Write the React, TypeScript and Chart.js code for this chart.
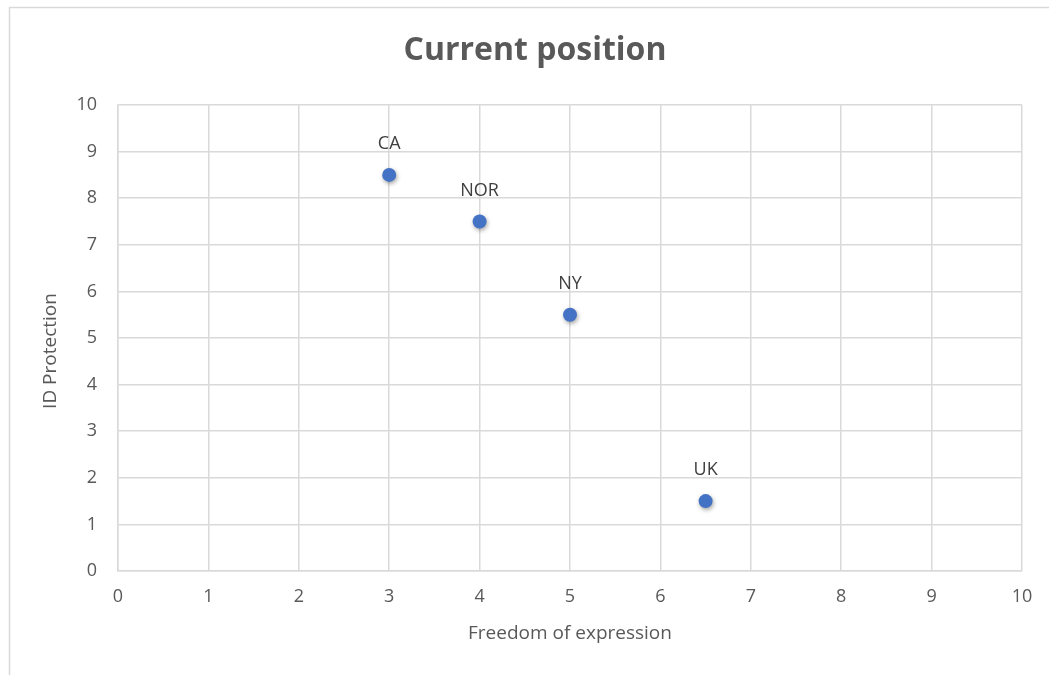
import React, { useEffect, useRef } from "react";
import { Chart, registerables } from "chart.js";

Chart.register(...registerables);

const pointLabels = ["CA", "NOR", "NY", "UK"];
const freedomValues = [3, 4, 5, 6.5];
const protectionValues = [8.5, 7.5, 5.5, 1.5];
const titleText = "Current position";
const xAxisTitle = "Freedom of expression";
const yAxisTitle = "ID Protection";
const axisMin = 0;
const axisMax = 10;
const axisStep = 1;

const FONT = "'Open Sans', 'DejaVu Sans', sans-serif";
const GRID = "#d9d9d9";
const TEXT = "#595959";

const decorPlugin = {
  id: "decor",
  beforeDraw(chart: any) {
    const ctx = chart.ctx;
    ctx.save();
    ctx.fillStyle = "#ffffff";
    ctx.fillRect(0, 0, chart.width, chart.height);
    ctx.strokeStyle = GRID;
    ctx.lineWidth = 1.5;
    ctx.strokeRect(9.5, 7.5, chart.width + 20, chart.height + 20);
    ctx.restore();
  },
  beforeDatasetDraw(chart: any) {
    const ctx = chart.ctx;
    ctx.save();
    ctx.shadowColor = "rgba(0,0,0,0.35)";
    ctx.shadowBlur = 4;
    ctx.shadowOffsetX = 1;
    ctx.shadowOffsetY = 2;
  },
  afterDatasetDraw(chart: any) {
    chart.ctx.restore();
  },
  afterDraw(chart: any) {
    const ctx = chart.ctx;
    const area = chart.chartArea;
    ctx.save();
    // title
    ctx.fillStyle = TEXT;
    ctx.font = `bold 32px ${FONT}`;
    ctx.textAlign = "center";
    ctx.textBaseline = "middle";
    ctx.fillText(titleText, 535, 51);
    // axis titles
    ctx.font = `19px ${FONT}`;
    ctx.fillText(xAxisTitle, (area.left + area.right) / 2, 634);
    ctx.save();
    ctx.translate(51, 351);
    ctx.rotate(-Math.PI / 2);
    ctx.fillText(yAxisTitle, 0, 0);
    ctx.restore();
    // data labels
    const meta = chart.getDatasetMeta(0);
    ctx.fillStyle = "#404040";
    ctx.font = `18px ${FONT}`;
    meta.data.forEach((pt: any, i: number) => {
      ctx.fillText(pointLabels[i], pt.x, pt.y - 31);
    });
    ctx.restore();
  },
};

export default function App() {
  const ref = useRef<HTMLCanvasElement>(null);
  useEffect(() => {
    if (!ref.current) return;
    const chart = new Chart(ref.current, {
      type: "scatter",
      data: {
        datasets: [
          {
            label: "Current position",
            data: freedomValues.map((x, i) => ({ x, y: protectionValues[i] })),
            backgroundColor: "#4472c4",
            borderColor: "#4472c4",
            pointRadius: 7,
            pointHoverRadius: 7,
            borderWidth: 0,
          },
        ],
      },
      options: {
        responsive: false,
        animation: false,
        layout: { padding: { left: 38, top: 105, right: 27, bottom: 24 } },
        plugins: {
          legend: { display: false },
          title: { display: false },
          tooltip: { enabled: false },
        },
        scales: {
          x: {
            type: "linear",
            min: axisMin,
            max: axisMax,
            ticks: {
              stepSize: axisStep,
              color: TEXT,
              font: { family: FONT, size: 18 },
              padding: 15,
            },
            grid: { color: GRID, lineWidth: 1.5, drawTicks: false },
            border: { color: GRID, width: 1.5 },
            afterFit: (s: any) => {
              s.height = 80;
            },
          },
          y: {
            type: "linear",
            min: axisMin,
            max: axisMax,
            ticks: {
              stepSize: axisStep,
              color: TEXT,
              font: { family: FONT, size: 18 },
              padding: 21,
            },
            grid: { color: GRID, lineWidth: 1.5, drawTicks: false },
            border: { color: GRID, width: 1.5 },
            afterFit: (s: any) => {
              s.width = 80;
            },
          },
        },
      },
      plugins: [decorPlugin],
    });
    return () => chart.destroy();
  }, []);
  return (
    <div style={{ position: "fixed", left: 0, top: 0, width: 1049, height: 675, background: "#fff" }}>
      <canvas ref={ref} width={1049} height={675} />
    </div>
  );
}
